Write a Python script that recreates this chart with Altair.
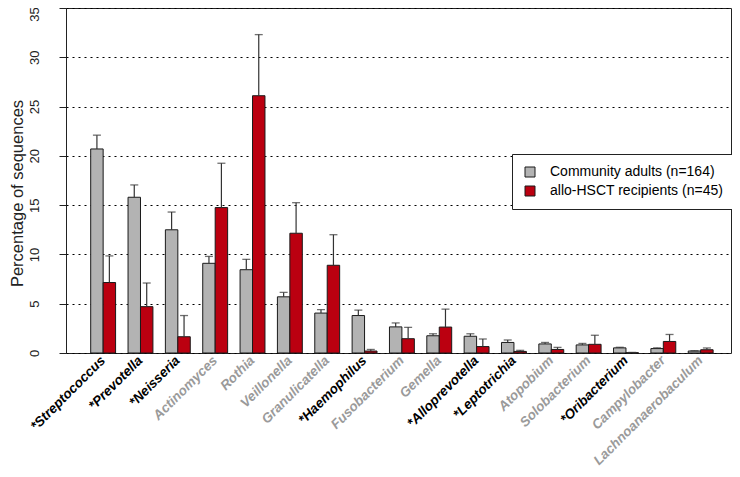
import altair as alt
import pandas as pd

genera = ["*Streptococcus", "*Prevotella", "*Neisseria", "Actinomyces", "Rothia",
          "Veillonella", "Granulicatella", "*Haemophilus", "Fusobacterium", "Gemella",
          "*Alloprevotella", "*Leptotrichia", "Atopobium", "Solobacterium",
          "*Oribacterium", "Campylobacter", "Lachnoanaerobaculum"]
series_names = ["Community adults (n=164)", "allo-HSCT recipients (n=45)"]
community_mean = [20.7, 15.8, 12.5, 9.1, 8.45, 5.7, 4.05, 3.8, 2.65, 1.75, 1.7,
                  1.07, 0.92, 0.82, 0.52, 0.45, 0.2]
community_upper = [22.1, 17.05, 14.3, 9.8, 9.5, 6.15, 4.4, 4.35, 3.05, 1.95, 1.95,
                   1.32, 1.07, 0.97, 0.58, 0.52, 0.23]
hsct_mean = [7.15, 4.7, 1.65, 14.75, 26.1, 12.15, 8.9, 0.2, 1.45, 2.63, 0.65,
             0.16, 0.36, 0.88, 0.03, 1.17, 0.33]
hsct_upper = [9.85, 7.1, 3.8, 19.25, 32.3, 15.25, 12.0, 0.36, 2.6, 4.45, 1.42,
              0.27, 0.57, 1.8, 0.06, 1.88, 0.51]
y_ticks = [0, 5, 10, 15, 20, 25, 30, 35]

rows = []
for g, m, u in zip(genera, community_mean, community_upper):
    rows.append({"genus": g, "series": series_names[0], "mean": m, "upper": u})
for g, m, u in zip(genera, hsct_mean, hsct_upper):
    rows.append({"genus": g, "series": series_names[1], "mean": m, "upper": u})
df = pd.DataFrame(rows)

FONT = "Liberation Sans"

x_enc = alt.X(
    "genus:N", sort=genera,
    scale=alt.Scale(paddingInner=1 / 3, paddingOuter=0.57, align=0.58),
    axis=alt.Axis(
        title=None, domain=False, ticks=False, labelAngle=-45,
        labelAlign="right", labelBaseline="middle", labelPadding=5,
        labelFont=FONT, labelFontSize=13.5, labelFontWeight="bold",
        labelFontStyle="italic", labelLimit=300,
        labelColor={"condition": {"test": "indexof(datum.value, '*') == 0",
                                  "value": "#000000"},
                    "value": "#9a9a9a"},
    ),
)
xoff = alt.XOffset("series:N", sort=series_names,
                   scale=alt.Scale(paddingInner=0, paddingOuter=0))
y_scale = alt.Scale(domain=[0, 35], nice=False)

base = alt.Chart(df)

bars = base.mark_bar(stroke="#1a1a1a", strokeWidth=1).encode(
    x=x_enc,
    xOffset=xoff,
    y=alt.Y("mean:Q", scale=y_scale,
            axis=alt.Axis(
                title="Percentage of sequences", values=y_ticks,
                grid=True, gridDash=[2, 4], gridColor="#000000", gridWidth=1,
                domain=False, tickSize=7, tickColor="#222222",
                labelAngle=270, labelAlign="center", labelBaseline="bottom",
                labelPadding=18, labelFont=FONT, labelFontSize=13,
                labelColor="#222222",
                labelOffset={"condition": {"test": "datum.value == 35", "value": 6},
                             "value": 0},
                titleFont=FONT, titleFontSize=16.5, titleFontWeight="normal",
                titleColor="#222222", titlePadding=3, titleY=185,
            )),
    color=alt.Color("series:N", sort=series_names,
                    scale=alt.Scale(domain=series_names, range=["#b3b3b3", "#bb0010"]),
                    legend=alt.Legend(
                        title=None, orient="none", legendX=446, legendY=146,
                        symbolType="square", symbolSize=100,
                        symbolStrokeColor="#1a1a1a", symbolStrokeWidth=1,
                        labelFont=FONT, labelFontSize=14, labelColor="#000000",
                        labelLimit=300,
                        labelOffset=13, rowPadding=5, padding=11,
                        strokeColor="#222222", fillColor="white",
                    )),
)

err = base.mark_rule(color="#333333", strokeWidth=1.2).encode(
    x=x_enc, xOffset=xoff,
    y=alt.Y("mean:Q", scale=y_scale),
    y2="upper:Q",
)
caps = base.mark_tick(color="#333333", size=8, thickness=1.3).encode(
    x=x_enc, xOffset=xoff,
    y=alt.Y("upper:Q", scale=y_scale),
)

chart = alt.layer(bars, err, caps).properties(
    width=665, height=345,
    autosize=alt.AutoSizeParams(type="none"),
    padding={"left": 58, "top": 0, "right": 1, "bottom": 116},
).configure(
    background="white"
).configure_view(
    stroke="#222222", strokeWidth=1
)

chart.save("out.html", embed_options={"renderer": "svg", "actions": False})
